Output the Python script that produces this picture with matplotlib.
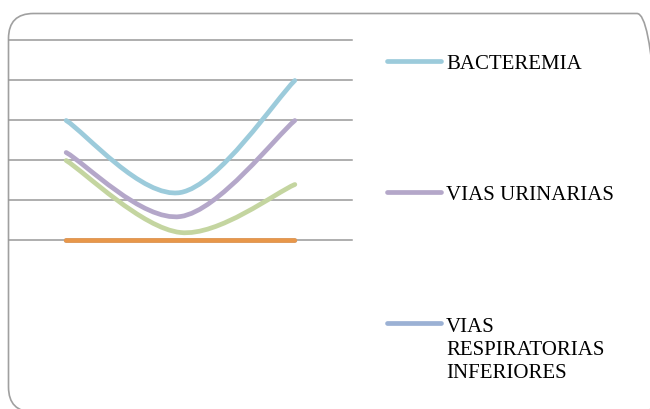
import matplotlib.pyplot as plt
import numpy as np
from matplotlib.path import Path
from matplotlib.patches import PathPatch, FancyBboxPatch

plt.rcParams['font.family'] = ['Liberation Serif', 'DejaVu Serif']

# categories (no labels shown on the chart)
cats = [0, 1, 2]

bacteremia = [3.0, 1.2, 4.0]
vias_urinarias = [2.2, 0.6, 3.0]
vias_resp = [0.0, 0.0, 0.0]
serie4 = [2.0, 0.2, 1.4]
serie5 = [0.0, 0.0, 0.0]

legend_names = ['BACTEREMIA', 'VIAS URINARIAS', 'VIAS\nRESPIRATORIAS\nINFERIORES']

c_aqua = '#9ccbdb'
c_purple = '#b4a7c9'
c_blue = '#9bb1d4'
c_green = '#c4d5a0'
c_orange = '#e8974a'


def smooth_path(xs, ys):
    # excel-like smoothed line: cubic bezier segments through the points
    x = np.asarray(xs, float) + 0.5
    y = np.asarray(ys, float)
    n = len(x)
    verts = [(x[0], y[0])]
    codes = [Path.MOVETO]
    for i in range(n - 1):
        p0 = (x[max(i - 1, 0)], y[max(i - 1, 0)])
        p1 = (x[i], y[i])
        p2 = (x[i + 1], y[i + 1])
        p3 = (x[min(i + 2, n - 1)], y[min(i + 2, n - 1)])
        c1 = (p1[0] + (p2[0] - p0[0]) / 6, p1[1] + (p2[1] - p0[1]) / 6)
        c2 = (p2[0] - (p3[0] - p1[0]) / 6, p2[1] - (p3[1] - p1[1]) / 6)
        verts += [c1, c2, p2]
        codes += [Path.CURVE4] * 3
    return Path(verts, codes)


fig = plt.figure(figsize=(6.5, 4.09), dpi=100)

# overlay in pixel units (origin bottom-left) for the frame and the legend
H = 409
bg = fig.add_axes([0, 0, 1, 1])
bg.set_xlim(0, 650)
bg.set_ylim(0, H)
bg.axis('off')
bg.add_patch(FancyBboxPatch((8.5, H - 412), 653.5, 398.5, boxstyle='round,pad=0,rounding_size=25',
                            facecolor='none', edgecolor='#a0a0a0', linewidth=1.2, clip_on=True))

ax = fig.add_axes([9 / 650, 1 - 240.5 / 409, (352 - 9) / 650, 200 / 409])
ax.set_xlim(0, 3)
ax.set_ylim(0, 5)
ax.axis('off')
for g in range(6):
    ax.axhline(g, color='#999999', linewidth=1.1, zorder=1, clip_on=False)

series = [(bacteremia, c_aqua), (vias_urinarias, c_purple), (serie4, c_green),
          (vias_resp, c_blue), (serie5, c_orange)]
for vals, col in series:
    ax.add_patch(PathPatch(smooth_path(cats, vals), facecolor='none', edgecolor=col,
                           linewidth=3.4, capstyle='round', zorder=3, clip_on=False))

# legend (only three entries fit in the box)
leg = [(61, c_aqua, legend_names[0], 64.5), (192, c_purple, legend_names[1], 195),
       (323, c_blue, legend_names[2], 318)]
for ly, col, name, ty in leg:
    bg.plot([387, 441], [H - ly, H - ly], color=col, linewidth=3.4, solid_capstyle='round')
    bg.text(446, H - ty, name, fontsize=15, va='center' if '\n' not in name else 'top',
            ha='left', color='#000000', linespacing=1.3)

fig.savefig('out.png', dpi=100)
